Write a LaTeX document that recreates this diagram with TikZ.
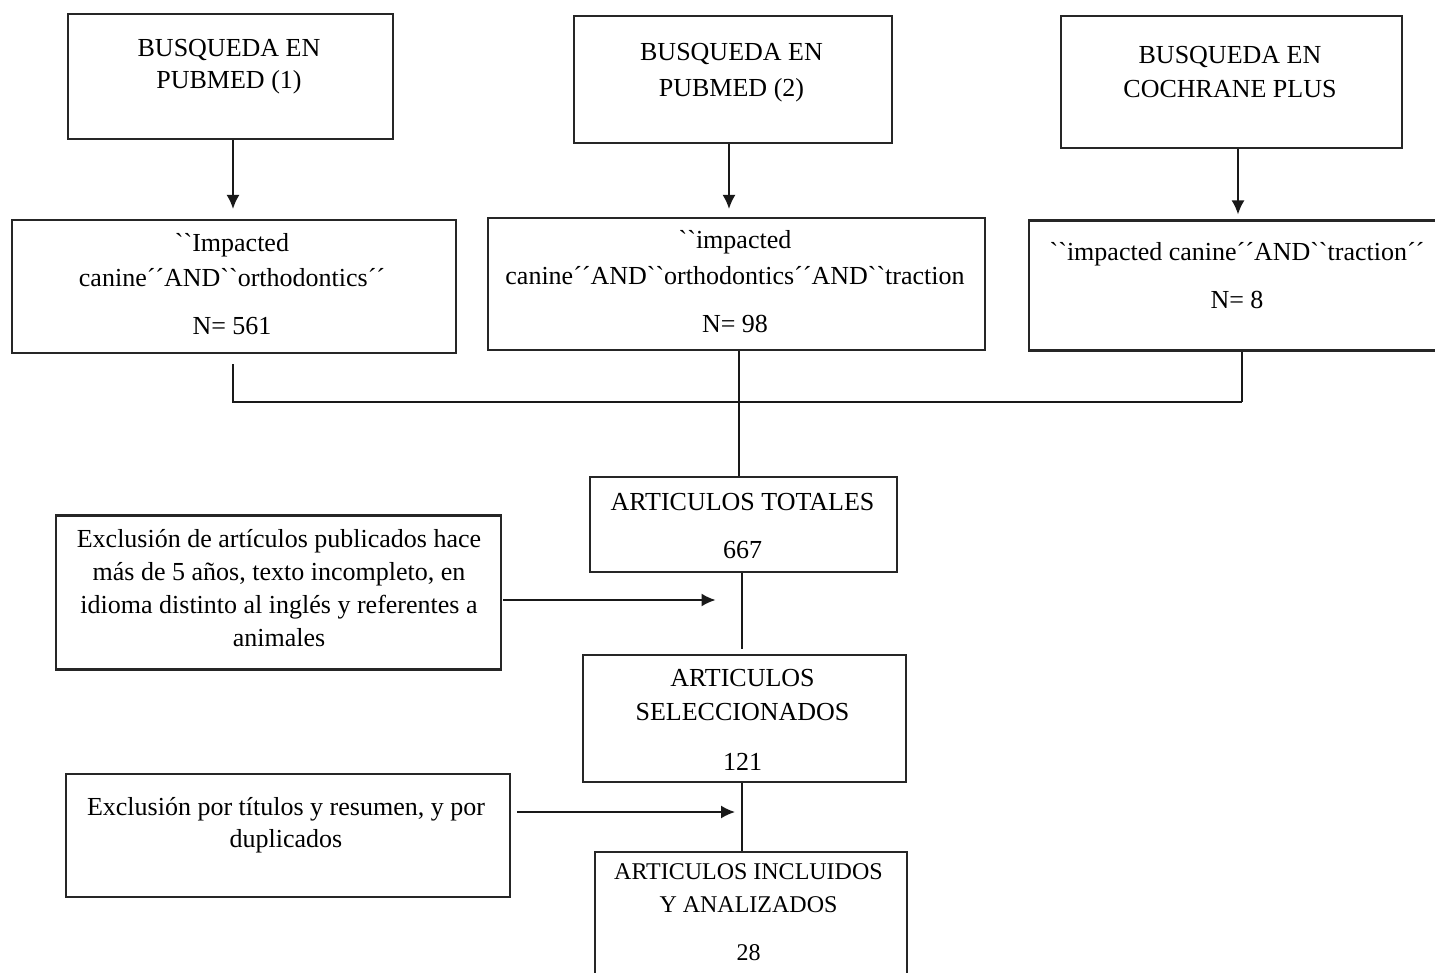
\documentclass[tikz,border=0pt]{standalone}
\usepackage{fontspec}
\setmainfont{Liberation Serif}[Ligatures=TeXOff]
\usetikzlibrary{arrows.meta,calc}
\begin{document}
\begin{tikzpicture}[x=1pt,y=-1pt,
  box/.style={draw=black!85, line width=2.2pt, inner sep=0pt},
  ln/.style={anchor=base, inner sep=0pt, font=\fontsize{26pt}{33pt}\selectfont},
  lns/.style={anchor=base, inner sep=0pt, font=\fontsize{24pt}{31pt}\selectfont},
  con/.style={draw=black!90, line width=1.7pt},
  arr/.style={con, -{Latex[length=14pt,width=13pt]}}]
\useasboundingbox (0,0) rectangle (1435,973);
\fill[white] (0,0) rectangle (1435,973);
\clip (0,0) rectangle (1435,973);

% boxes
\node[box, minimum width=325pt, minimum height=125pt] (a1) at (230.5,76.5) {};
\node[box, minimum width=318pt, minimum height=127pt] (a2) at (733,79.5) {};
\node[box, minimum width=341pt, minimum height=132pt] (a3) at (1231.5,82) {};
\node[box, minimum width=444pt, minimum height=133pt] (b1) at (234,286.5) {};
\node[box, minimum width=497pt, minimum height=132pt] (b2) at (736.5,284) {};
\node[box, minimum width=416pt, minimum height=130pt] (b3) at (1237,285.5) {};
\node[box, minimum width=307pt, minimum height=95pt] (c) at (743.5,524.5) {};
\node[box, minimum width=445pt, minimum height=154pt] (d) at (278.5,592.5) {};
\node[box, minimum width=323pt, minimum height=127pt] (e) at (744.5,718.5) {};
\node[box, minimum width=444pt, minimum height=123pt] (f) at (288,835.5) {};
\node[box, minimum width=312pt, minimum height=140pt] (g) at (751,922) {};

% texts
\node[ln] (a1t1) at (229,57) {BUSQUEDA EN};
\node[ln] (a1t2) at (229,89) {PUBMED (1)};
\node[ln] (a2t1) at (731.5,61) {BUSQUEDA EN};
\node[ln] (a2t2) at (731.5,97) {PUBMED (2)};
\node[ln] (a3t1) at (1230,64) {BUSQUEDA EN};
\node[ln] (a3t2) at (1230,98) {COCHRANE PLUS};

\node[ln] (b1t1) at (232,252) {``Impacted};
\node[ln] (b1t2) at (232,287) {canine´´AND``orthodontics´´};
\node[ln] (b1t3) at (232,335) {N= 561};
\node[ln] (b2t1) at (735,249) {``impacted};
\node[ln] (b2t2) at (735,285) {canine´´AND``orthodontics´´AND``traction};
\node[ln] (b2t3) at (735,333) {N= 98};
\node[ln] (b3t1) at (1237,261) {``impacted canine´´AND``traction´´};
\node[ln] (b3t2) at (1237,309) {N= 8};

\node[ln] (ct1) at (742.5,510) {ARTICULOS TOTALES};
\node[ln] (ct2) at (742.5,558) {667};

\node[ln] (dt1) at (279,547) {Exclusión de artículos publicados hace};
\node[ln] (dt2) at (279,580) {más de 5 años, texto incompleto, en};
\node[ln] (dt3) at (279,613) {idioma distinto al inglés y referentes a};
\node[ln] (dt4) at (279,646) {animales};

\node[ln] (et1) at (742.5,686) {ARTICULOS};
\node[ln] (et2) at (742.5,720) {SELECCIONADOS};
\node[ln] (et3) at (742.5,770) {121};

\node[ln] (ft1) at (286,815) {Exclusión por títulos y resumen, y por};
\node[ln] (ft2) at (286,847) {duplicados};

\node[lns] (gt1) at (748.5,879) {ARTICULOS INCLUIDOS};
\node[lns] (gt2) at (748.5,912) {Y ANALIZADOS};
\node[lns] (gt3) at (748.5,960) {28};

% arrows from searches to queries
\draw[arr] ($(a1.south)+(2.5,0)$) -- ($(a1.south |- b1.north)+(2.5,-10)$);
\draw[arr] ($(a2.south)+(-4,0)$) -- ($(a2.south |- b2.north)+(-4,-8)$);
\draw[arr] ($(a3.south)+(6.5,0)$) -- ($(a3.south |- b3.north)+(6.5,-5)$);

% merge
\coordinate (jl) at ($(b1.south)+(-1,48)$);
\coordinate (jr) at ($(b3.south)+(5,50)$);
\draw[con] ($(b1.south)+(-1,10)$) -- (jl) -- (jl -| jr);
\draw[con] ($(b3.south)+(5,0)$) -- (jr);
\draw[con] ($(b2.south)+(2.5,0)$) -- ($(b2.south |- c.north)+(2.5,0)$);

% main chain
\draw[con] ($(c.south)+(-1.5,0)$) -- ($(c.south |- e.north)+(-1.5,-5)$);
\draw[con] ($(e.south)+(-2.5,0)$) -- ($(e.south |- g.north)+(-2.5,0)$);

% exclusions
\draw[arr] ($(d.east)+(1,7.5)$) -- ($(d.east -| c.south)+(-28,7.5)$);
\draw[arr] ($(f.east)+(6,-23.5)$) -- ($(f.east -| e.south)+(-9.5,-23.5)$);
\end{tikzpicture}
\end{document}
